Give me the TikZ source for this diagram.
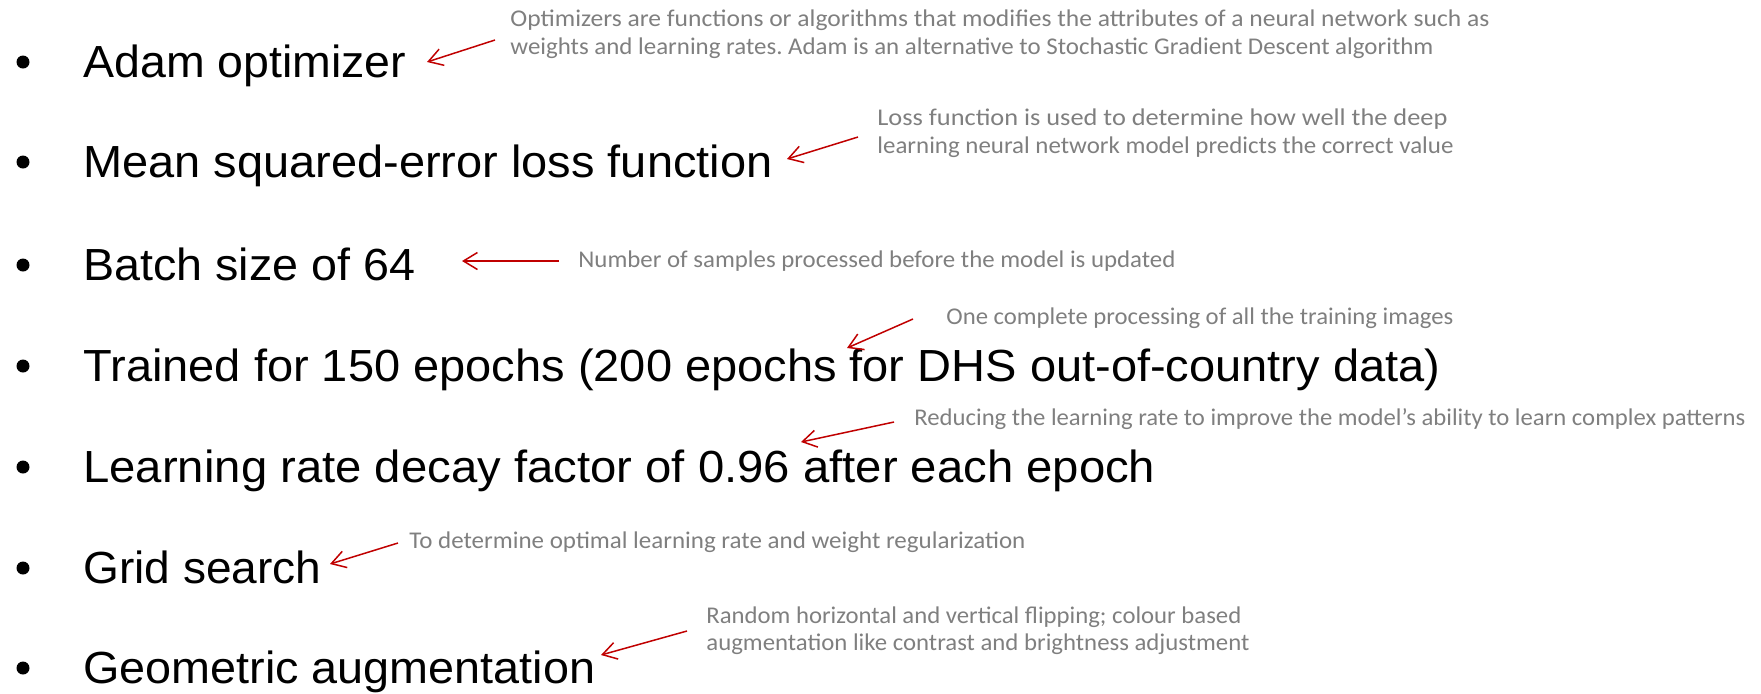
\documentclass[tikz,border=0pt]{standalone}
\usepackage{fontspec}
\setmainfont{Liberation Sans}
\newfontfamily\annfont{Carlito}
\usepackage{graphicx}
\usetikzlibrary{arrows.meta}
\frenchspacing
\definecolor{annred}{HTML}{C00000}
\definecolor{anngray}{HTML}{7F7F7F}
\newcommand{\fitw}[2]{\resizebox{#1}{\height}{#2}}
\tikzset{
  mainitem/.style={anchor=base west, inner sep=0pt, font=\fontsize{22.5}{26}\selectfont, text=black},
  annitem/.style={anchor=base west, inner sep=0pt, font=\annfont\fontsize{12}{14}\selectfont, text=anngray},
  bulletdot/.style={circle, fill=black, inner sep=0pt, minimum size=6.5pt},
  pointer/.style={draw=annred, line width=0.75pt, -{Straight Barb[length=7pt,width=8.5pt,line width=0.75pt]}}
}
\begin{document}
\begin{tikzpicture}[x=0.5pt, y=-0.5pt]
\useasboundingbox (0,0) rectangle (1761,693);
% bullets
\node[bulletdot] (b1) at (23,62) {};
\node[bulletdot] (b2) at (23,162) {};
\node[bulletdot] (b3) at (23,265) {};
\node[bulletdot] (b4) at (23,366) {};
\node[bulletdot] (b5) at (23,467) {};
\node[bulletdot] (b6) at (23,568) {};
\node[bulletdot] (b7) at (23,668) {};
% main items
\node[mainitem] (m1) at (83,77) {\fitw{161.5pt}{Adam optimizer}};
\node[mainitem] (m2) at (83,177) {\fitw{344.5pt}{Mean squared-error loss function}};
\node[mainitem] (m3) at (83,280) {\fitw{166pt}{Batch size of 64}};
\node[mainitem] (m4) at (83,381) {\fitw{678.5pt}{Trained for 150 epochs (200 epochs for DHS out-of-country data)}};
\node[mainitem] (m5) at (83,482) {\fitw{536pt}{Learning rate decay factor of 0.96 after each epoch}};
\node[mainitem] (m6) at (83,583) {\fitw{119pt}{Grid search}};
\node[mainitem] (m7) at (83,683) {\fitw{256pt}{Geometric augmentation}};
% annotations
\node[annitem] (a1a) at (510,26) {\fitw{489.5pt}{Optimizers are functions or algorithms that modifies the attributes of a neural network such as}};
\node[annitem] (a1b) at (510,54) {\fitw{461.5pt}{weights and learning rates. Adam is an alternative to Stochastic Gradient Descent algorithm}};
\node[annitem] (a2a) at (877,125) {\fitw{285pt}{Loss function is used to determine how well the deep}};
\node[annitem] (a2b) at (877,153) {\fitw{288pt}{learning neural network model predicts the correct value}};
\node[annitem] (a3) at (578,267) {\fitw{298.5pt}{Number of samples processed before the model is updated}};
\node[annitem] (a4) at (946,324) {\fitw{253.5pt}{One complete processing of all the training images}};
\node[annitem] (a5) at (914,425) {\fitw{415.5pt}{Reducing the learning rate to improve the model’s ability to learn complex patterns}};
\node[annitem] (a6) at (409,548) {\fitw{308pt}{To determine optimal learning rate and weight regularization}};
\node[annitem] (a7a) at (706,623) {\fitw{267.5pt}{Random horizontal and vertical flipping; colour based}};
\node[annitem] (a7b) at (706,650) {\fitw{271.5pt}{augmentation like contrast and brightness adjustment}};
% arrow ends
\coordinate (t1) at (495,40);  \coordinate (h1) at (427,62);
\coordinate (t2) at (858,137); \coordinate (h2) at (787,159);
\coordinate (t3) at (559,261); \coordinate (h3) at (462,261);
\coordinate (t4) at (913,319); \coordinate (h4) at (847,348);
\coordinate (t5) at (894,422); \coordinate (h5) at (801,442);
\coordinate (t6) at (398,543); \coordinate (h6) at (330,564);
\coordinate (t7) at (687,631); \coordinate (h7) at (601,655);
\draw[pointer] (t1) -- (h1);
\draw[pointer] (t2) -- (h2);
\draw[pointer] (t3) -- (h3);
\draw[pointer] (t4) -- (h4);
\draw[pointer] (t5) -- (h5);
\draw[pointer] (t6) -- (h6);
\draw[pointer] (t7) -- (h7);
\end{tikzpicture}
\end{document}
